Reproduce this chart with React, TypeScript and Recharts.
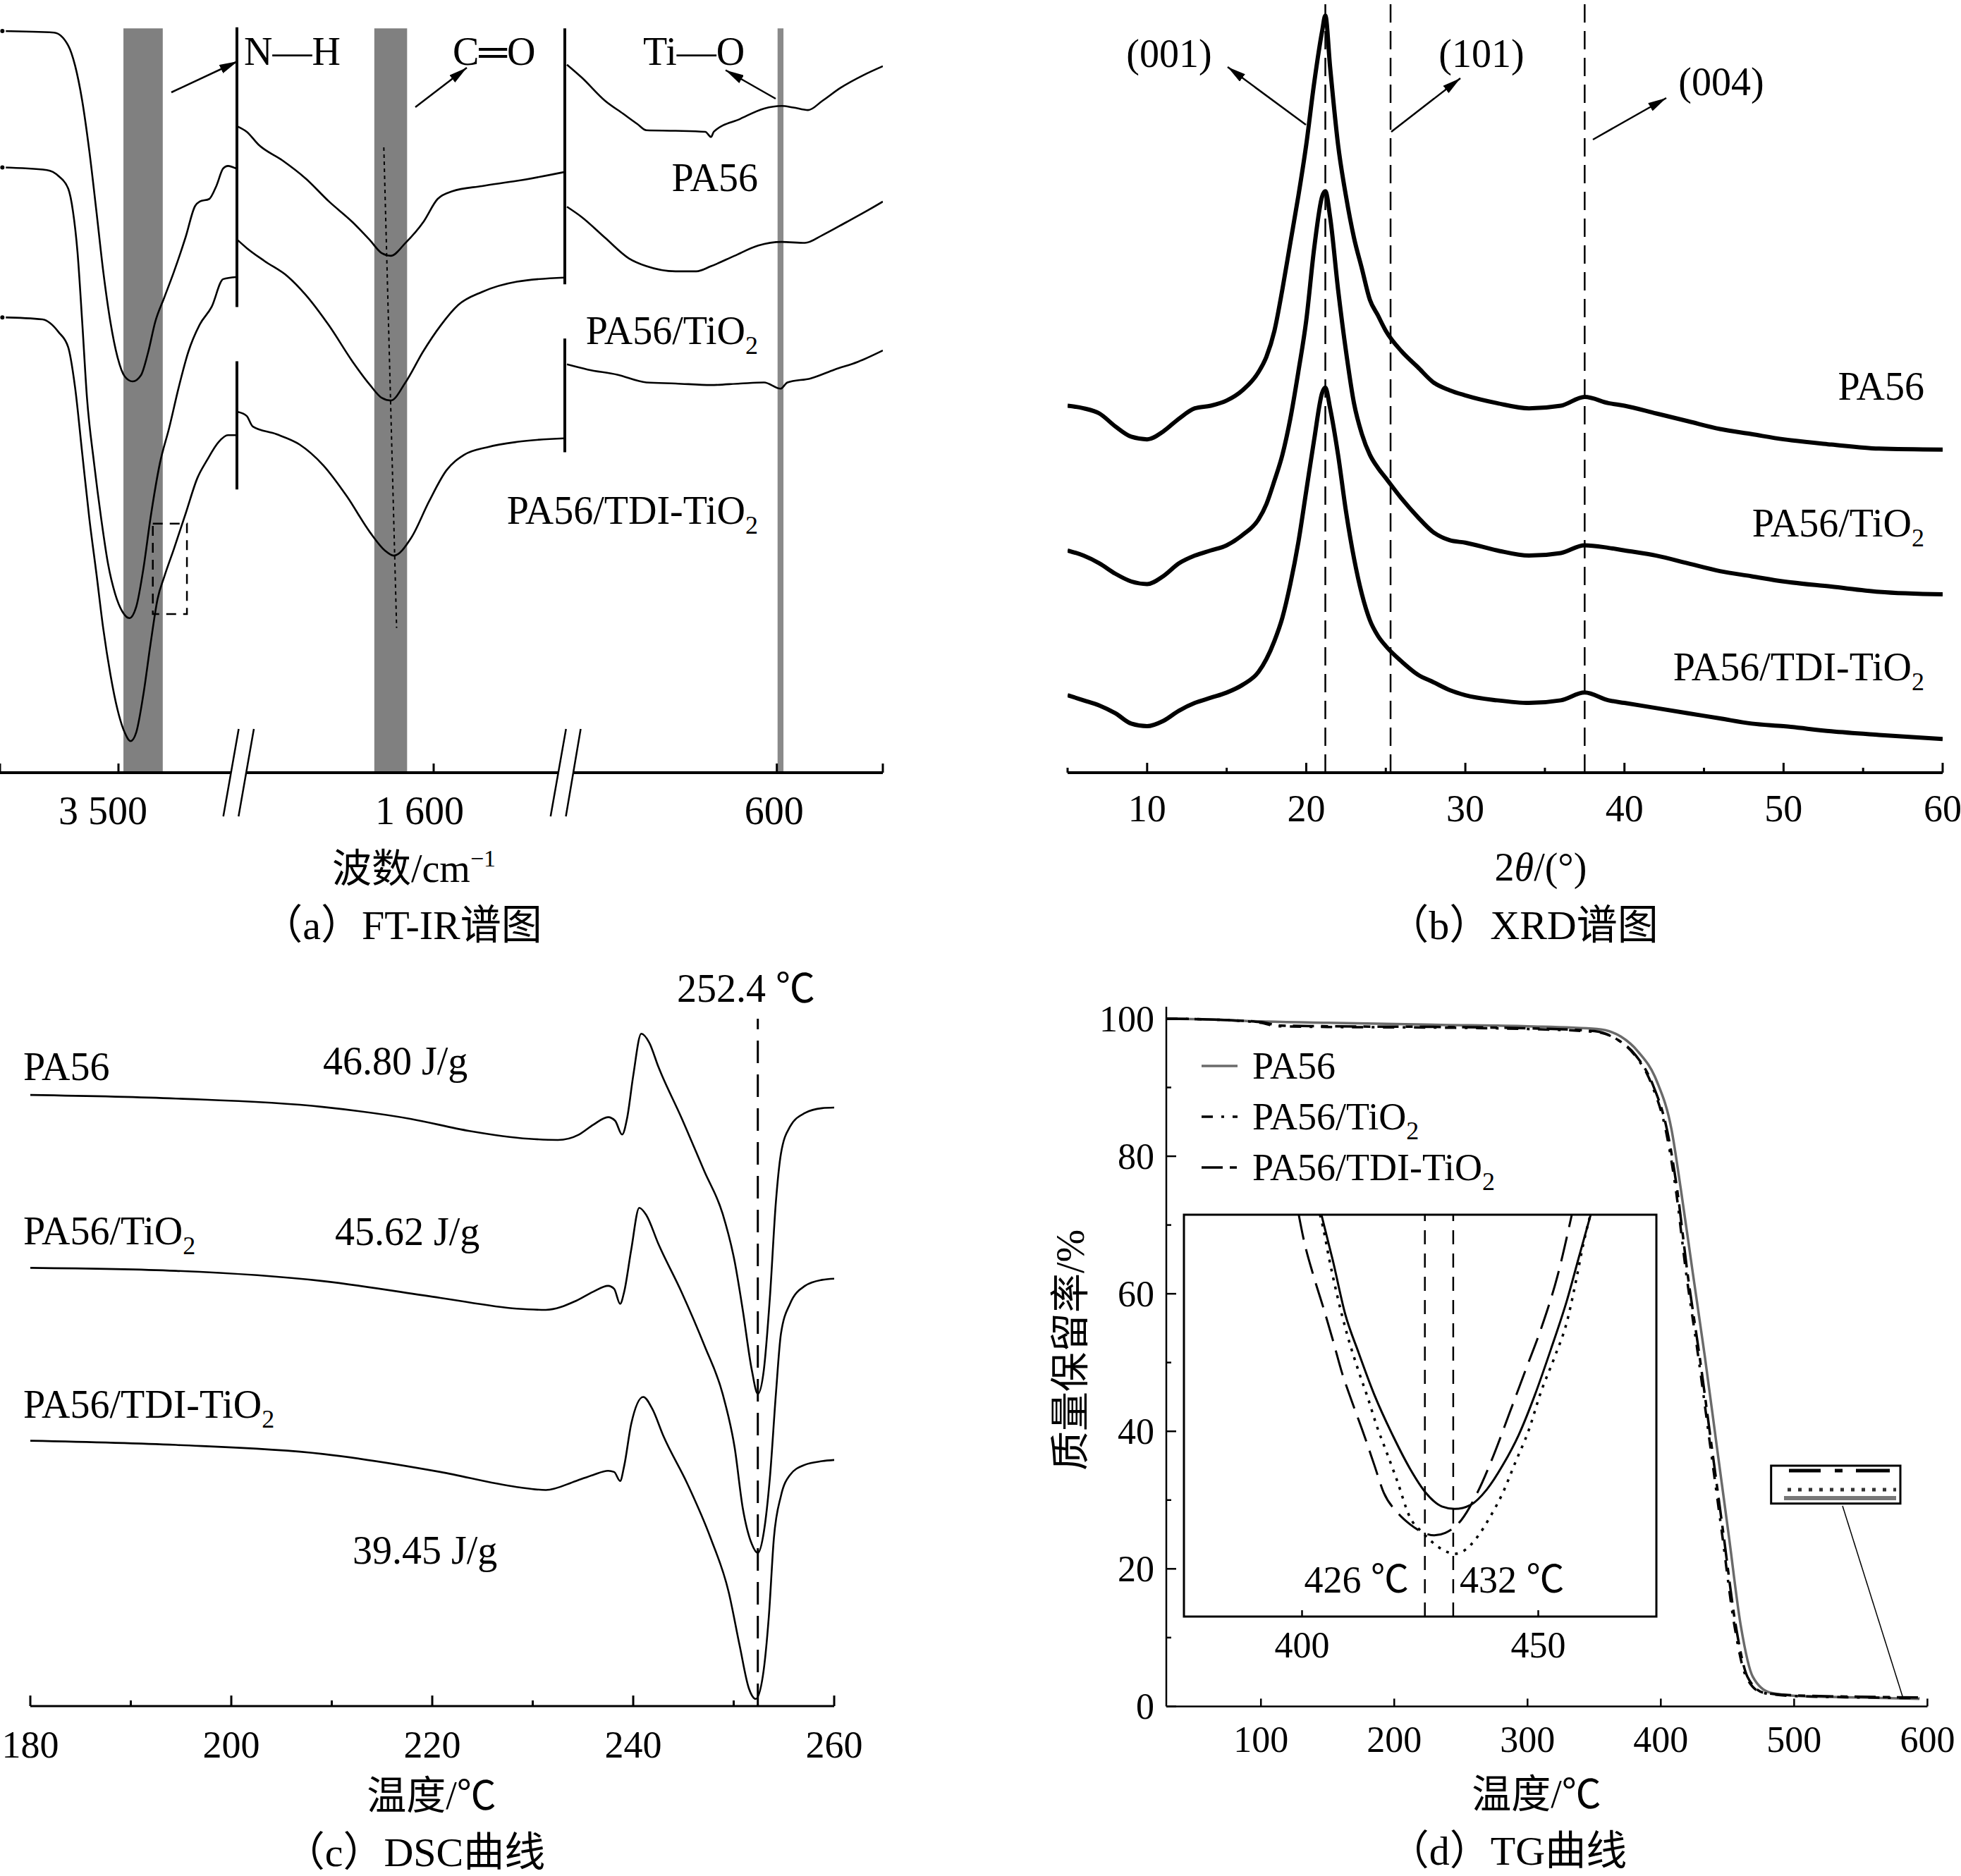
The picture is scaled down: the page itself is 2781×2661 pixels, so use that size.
import React from "react";
import { LineChart, Line, XAxis, YAxis, ReferenceLine, ReferenceArea } from "recharts";

type P = [number, number];
const SERIF = "'Liberation Serif','Times New Roman','Noto Sans CJK SC',serif";
const rows = (pts: P[]) => pts.map(([x, y]) => ({ x, y }));

// ---------------- (a) FT-IR ----------------
const IR_DOMAINS: [number, number][] = [[3000, 4000], [1200, 2200], [400, 1000]];
const IR_TICKS: number[][] = [[4000, 3500], [1600], [600, 400]];
const IR_LABEL_VALUES = [3500, 1600, 600];
const IR_LABEL_TEXTS = ["3 500", "1 600", "600"];
const IR_BANDS: P[] = [[3313, 3479], [1681, 1781], [587.5, 598.6]];
const IR_BAND_TOP = 144;

const IR1_PA56: P[] = [[3990,143.5],[3772,143.2],[3712,140.7],[3683,136.8],[3653,130.0],[3623,120.3],[3593,108.6],[3564,96.9],[3534,87.2],[3504,80.4],[3474,76.7],[3440,75.7],[3405,76.9],[3375,81.3],[3345,87.2],[3306,92.0],[3266,96.9],[3216,103.7],[3177,109.6],[3157,110.5],[3117,111.0],[3087,113.5],[3058,116.9],[3038,117.4],[3003,116.9]];
const IR1_TIO2: P[] = [[3990,117.1],[3802,116.6],[3752,115.4],[3712,113.0],[3692,108.6],[3673,100.8],[3653,87.2],[3633,72.6],[3603,59.9],[3573,49.2],[3544,40.4],[3514,34.6],[3484,31.2],[3454,29.9],[3425,32.1],[3395,39.4],[3365,49.2],[3325,59.9],[3286,66.7],[3246,74.5],[3206,81.3],[3157,86.7],[3107,90.1],[3058,95.5],[3003,95.9]];
const IR1_TDI: P[] = [[3990,88.1],[3821,87.7],[3752,85.2],[3712,82.3],[3683,74.5],[3653,61.8],[3623,49.2],[3593,38.5],[3564,27.8],[3534,19.0],[3504,12.2],[3474,7.8],[3449,6.1],[3425,7.8],[3395,15.1],[3365,24.8],[3335,33.6],[3306,38.0],[3266,43.3],[3216,50.2],[3167,57.0],[3127,60.4],[3077,64.0],[3038,65.3],[3003,65.3]];

const IR2_PA56: P[] = [[2197,125],[2170,124],[2134,121.5],[2062,118.5],[1991,115],[1919,110.5],[1847,106.5],[1794,103],[1758,100.5],[1731,100],[1686,102.5],[1632,106.5],[1588,111],[1543,112.5],[1453,113.5],[1346,114.5],[1202,116.2]];
const IR2_TIO2: P[] = [[2197,103],[2170,101.5],[2116,99],[2045,96],[1991,92.5],[1919,86.5],[1847,79.5],[1794,75],[1758,72.5],[1731,72],[1686,75.5],[1632,81.5],[1579,86.5],[1525,90.5],[1453,93],[1346,95],[1202,95.8]];
const IR2_TDI: P[] = [[2197,69.8],[2170,69.0],[2152,67],[2080,65.5],[2009,63.5],[1937,59.5],[1865,53.5],[1794,46.5],[1749,43],[1722,42],[1668,45.5],[1614,52.5],[1561,58.5],[1507,61.5],[1435,63],[1346,64],[1202,64.7]];

const IR3_PA56: P[] = [[996,137],[968,134.5],[924,130],[890,127.5],[863,125.5],[846,124.3],[791,124.2],[735,124],[724,123],[719,124],[669,126.5],[624,128.5],[591,129],[569,128.7],[541,128.2],[514,130],[480,132.5],[436,135],[400,136.7]];
const IR3_TIO2: P[] = [[996,109.5],[968,107.5],[924,103.5],[879,99.5],[846,98],[791,97],[752,97],[724,98],[680,100],[635,102],[591,102.7],[547,102.5],[514,104],[469,106.5],[425,109],[400,110.5]];
const IR3_TDI: P[] = [[996,79],[957,78],[901,77],[846,75.5],[791,75.3],[724,75],[669,75.3],[624,75.5],[593,74.3],[580,75.5],[536,76.3],[491,78],[447,79.5],[400,81.7]];

const IR_SERIES: P[][][] = [[IR1_PA56, IR1_TIO2, IR1_TDI], [IR2_PA56, IR2_TIO2, IR2_TDI], [IR3_PA56, IR3_TIO2, IR3_TDI]];
const IR_BREAK_S2: P[] = [[144.2, 90.1], [79.6, 54.8]];
const IR_BREAK_S3: P[] = [[144, 94.5], [84, 62]];
const IR_DOTTED: P[] = [[1752, 121], [1713, 28]];
const IR_BOX = { x1: 3211, x2: 3355, y1: 30.7, y2: 48.2 };

// ---------------- (b) XRD ----------------
const XRD_ANGLE = [5,6,7,8,9,10,11,12,13,14,15,16,17,17.5,18,18.5,19,19.5,20,20.5,21,21.2,21.5,22,22.5,23,23.5,24,24.5,25,26,27,28,29,30,32,34,36,37.5,39,40,42,44,46,48,50,53,56,60];
const XRD_PA56 = [71.0,70.5,69.5,67.0,65.0,64.5,66.0,68.5,70.5,71.0,72.0,74.0,77.5,80.5,85.5,93.5,102.5,111.5,121.5,133.5,143.5,146.5,136.5,121.5,111.5,103.5,97.5,91.5,88.5,85.5,81.5,78.5,75.5,74.0,73.0,71.5,70.5,71.0,72.7,71.5,71.0,69.5,68.0,66.5,65.5,64.5,63.5,62.7,62.5];
const XRD_TIO2 = [43,42,40.5,38.5,37,36.5,38,40.5,42,43,44,46,49,52,56.5,61.5,68.5,77.5,87.5,101.5,111.5,112.5,107.5,93.5,81.5,71.5,65.5,61.5,59,57,53,49.5,46.5,45,44.5,43,42,42.5,44,43.5,43,42,40.5,39,38,37,36,35,34.5];
const XRD_TDI = [15,14,13,11.5,9.5,9,10,12,13.5,14.5,15.5,17,19.5,22,25.5,30,36.5,44.5,54.5,64.5,73.5,74.5,70.5,61.5,50.5,41.5,34.5,29.5,26.5,24.5,21.5,19,17.5,16,15,14,13.5,14,15.5,14,13.5,12.5,11.5,10.5,9.5,9,8,7.3,6.5];
const XRD_MAJOR = [10, 20, 30, 40, 50, 60];
const XRD_MINOR = [5, 15, 25, 35, 45, 55];
const XRD_PEAKS = [21.2, 25.3, 37.5];

// ---------------- (c) DSC ----------------
const DSC_PA56: P[] = [[180,101.8],[194.5,101.2],[209.1,99.8],[217.9,97.8],[223.7,95.8],[229.6,94.5],[232.5,94.3],[234.6,95.2],[236.0,96.8],[237.5,98.1],[238.2,97.5],[238.9,95.2],[239.4,98.0],[240.0,105.0],[240.8,112.0],[241.6,110.5],[242.5,106.5],[244.8,98.0],[247.1,89.0],[248.9,82.0],[250.1,74.0],[250.9,66.0],[251.8,56.0],[252.4,52.0],[253.0,56.0],[253.6,68.0],[254.2,84.0],[254.7,92.0],[255.6,96.5],[257.1,98.8],[258.8,99.6],[260,99.7]];
const DSC_TIO2: P[] = [[180,73.0],[194.5,72.5],[209.1,70.8],[220.8,68.0],[228.4,66.2],[231.3,66.0],[234.3,67.5],[236.0,69.0],[237.5,70.0],[238.1,69.5],[238.7,67.0],[239.1,69.0],[239.8,76.0],[240.6,83.0],[241.3,81.8],[242.5,77.0],[244.8,69.0],[247.1,60.0],[248.9,52.0],[250.1,43.0],[250.9,33.0],[251.8,27.0],[252.4,25.5],[253.0,29.0],[253.6,38.0],[254.2,52.0],[254.7,62.0],[255.6,67.0],[257.1,70.0],[258.8,71.0],[260,71.2]];
const DSC_TDI: P[] = [[180,44.2],[194.5,43.5],[209.1,42.0],[220.8,39.0],[228.4,36.5],[231.3,36.0],[234.3,37.5],[236.0,38.5],[237.5,39.2],[238.1,39.0],[238.7,37.5],[239.1,40.0],[239.8,47.0],[241.0,51.5],[241.9,49.5],[243.0,45.0],[245.4,37.0],[247.7,28.0],[249.5,19.0],[250.6,10.0],[251.5,3.0],[252.2,1.2],[252.9,5.0],[253.5,15.0],[254.0,28.0],[254.7,35.0],[255.6,38.5],[257.1,40.2],[258.8,40.8],[260,41.0]];
const DSC_MAJOR = [180, 200, 220, 240, 260];
const DSC_MINOR = [190, 210, 230, 250];
const DSC_PEAK = 252.4;
const DSC_PEAK_TOP = 114.5;

// ---------------- (d) TG ----------------
const TG_PA56: P[] = [[29,100],[60,99.9],[100,99.6],[150,99.4],[235,99.1],[300,98.9],[352,98.5],[370,97.4],[383,95.2],[397,90.9],[408,83.9],[415,75.2],[424,63],[433,50.9],[442,37.8],[451,24.8],[460,11.7],[469,4.3],[482,2.0],[504,1.5],[550,1.3],[594,1.1]];
const TG_TIO2: P[] = [[29,100],[60,99.9],[100,99.4],[112,98.9],[150,98.8],[235,98.7],[300,98.5],[350,98.1],[367,97.0],[380,94.8],[393,90.5],[404,83.5],[411,75.5],[419,63],[428,51],[437,38],[446,25],[455,12],[464,4.3],[476,2.0],[500,1.5],[550,1.3],[594,1.2]];
const TG_TDI: P[] = [[29,100],[60,99.9],[100,99.5],[115,99.0],[150,98.9],[235,98.8],[300,98.6],[350,98.2],[368,96.9],[381,94.7],[394,90.4],[405,83.5],[412,75.5],[420,63],[429,51],[438,38],[447,25],[456,12],[465,4.3],[477,2.0],[500,1.6],[550,1.4],[594,1.3]];
const TG_X_TICKS = [100, 200, 300, 400, 500, 600];
const TG_Y_MAJOR = [0, 20, 40, 60, 80, 100];
const TG_Y_MINOR = [10, 30, 50, 70, 90];

const INSET_PA56: P[] = [[404.1,100],[406.5,88.7],[409.2,75],[411.9,65.9],[415.3,55.2],[419.4,44.6],[422.8,36.9],[426.2,30.8],[429.6,27.4],[432.3,26.8],[435.7,27.8],[439.1,31.6],[442.5,37.7],[445.9,45.3],[449.3,55.2],[452.7,66.6],[456.1,78.8],[458.8,90.3],[461.1,100]];
const INSET_TIO2: P[] = [[403.8,100],[404.4,97.1],[405.8,88.7],[407.5,79.6],[409.5,70.4],[411.9,61.3],[413.9,54.5],[416.0,46.8],[417.7,41.5],[420.1,33.9],[422.8,24.8],[425.5,20.9],[428.2,17.9],[430.9,16.0],[432.3,15.6],[434.3,16.4],[437.1,19.8],[439.8,24.8],[442.5,30.8],[445.2,38.5],[447.9,46.1],[450.6,56.0],[453.4,64.4],[456.1,73.5],[458.1,84.2],[459.5,92.5],[460.9,99.4]];
const INSET_TDI: P[] = [[399.3,100],[400.3,94.1],[402.4,84.9],[404.4,77.3],[406.5,68.9],[408.5,60.5],[410.5,53.7],[413.3,44.6],[415.3,37.7],[417.3,30.8],[420.1,26.0],[422.8,23.0],[425.5,21.0],[428.0,20.2],[430.3,20.8],[433.7,24.0],[437.1,30.8],[440.5,40.0],[443.9,50.6],[447.3,61.3],[450.7,72.0],[454.1,84.9],[457.1,100]];
const INSET_TICKS = [400, 450];
const INSET_MARKS = [426, 432];

// ---------------- helpers ----------------
function xTick(major: number[], labels: string[] | null, minor: number[], len: number, minorLen: number, off: number, size: number, sw: number, dx: number[] = []) {
  return (p: any) => {
    const v = Number(p.payload?.value);
    const isMinor = minor.indexOf(v) >= 0;
    const li = major.indexOf(v);
    const L = isMinor ? minorLen : len;
    const txt = li >= 0 ? (labels ? labels[li] : String(v)) : null;
    const shift = li >= 0 && dx[li] ? dx[li] : 0;
    return (
      <g>
        <line x1={p.x} y1={p.y} x2={p.x} y2={p.y - L} stroke="#000" strokeWidth={sw} />
        {txt !== null && (
          <text x={p.x + shift} y={p.y + off + 0.34 * size} textAnchor="middle" fontSize={size} fontFamily={SERIF} fill="#000">{txt}</text>
        )}
      </g>
    );
  };
}
function yTick(major: number[], minor: number[], len: number, minorLen: number, off: number, size: number, sw: number) {
  return (p: any) => {
    const v = Number(p.payload?.value);
    const isMinor = minor.indexOf(v) >= 0;
    const L = isMinor ? minorLen : len;
    const show = major.indexOf(v) >= 0;
    return (
      <g>
        <line x1={p.x} y1={p.y} x2={p.x + L} y2={p.y} stroke="#000" strokeWidth={sw} />
        {show && (
          <text x={p.x - off} y={p.y + 0.34 * size} textAnchor="end" fontSize={size} fontFamily={SERIF} fill="#000">{v}</text>
        )}
      </g>
    );
  };
}
const irTick = xTick(IR_LABEL_VALUES, IR_LABEL_TEXTS, [], 13, 13, 54, 56, 3, [-22, -20, -4]);
const xrdTick = xTick(XRD_MAJOR, null, XRD_MINOR, 14, 7, 51, 54, 3);
const dscTick = xTick(DSC_MAJOR, null, DSC_MINOR, 15, 8, 55, 54, 3);
const tgXTick = xTick(TG_X_TICKS, null, [], 11, 11, 47, 52, 2.5);
const tgYTick = yTick(TG_Y_MAJOR, TG_Y_MINOR, 14, 7, 17, 52, 2.5);
const insetTick = xTick(INSET_TICKS, null, [], 9, 9, 40, 52, 2.5);

const lineProps = { type: "monotone" as const, dot: false, isAnimationActive: false, dataKey: "y" };

// ---------------- panels ----------------
function IRSection({ idx, left, w }: { idx: number; left: number; w: number }) {
  const pad = 40;
  const band = IR_BANDS[idx];
  return (
    <div style={{ position: "absolute", left: left - pad, top: 0 }}>
      <LineChart width={w + 2 * pad} height={1200} margin={{ top: 0, right: pad, bottom: 0, left: pad }}>
        <XAxis type="number" dataKey="x" domain={IR_DOMAINS[idx]} reversed allowDataOverflow ticks={IR_TICKS[idx]} interval={0}
          height={104} tickLine={false} tickSize={0} tickMargin={0} axisLine={{ stroke: "#000", strokeWidth: 4 }} tick={irTick} />
        <YAxis type="number" domain={[0, 149.5]} hide allowDataOverflow />
        <ReferenceArea x1={band[0]} x2={band[1]} y1={0} y2={IR_BAND_TOP} fill={idx === 2 ? "#8a8a8a" : "#808080"} fillOpacity={1} stroke="none" />
        {idx === 0 && (
          <ReferenceArea x1={IR_BOX.x1} x2={IR_BOX.x2} y1={IR_BOX.y1} y2={IR_BOX.y2} fill="none" fillOpacity={0} stroke="#000" strokeWidth={2.5} strokeDasharray="14 10" />
        )}
        {idx === 1 && IR_BREAK_S2.map((s, i) => (
          <ReferenceLine key={"b" + i} segment={[{ x: 2200, y: s[0] }, { x: 2200, y: s[1] }]} stroke="#000" strokeWidth={4} />
        ))}
        {idx === 1 && (
          <ReferenceLine segment={[{ x: IR_DOTTED[0][0], y: IR_DOTTED[0][1] }, { x: IR_DOTTED[1][0], y: IR_DOTTED[1][1] }]} stroke="#000" strokeWidth={2} strokeDasharray="5 5" />
        )}
        {idx === 2 && IR_BREAK_S3.map((s, i) => (
          <ReferenceLine key={"c" + i} segment={[{ x: 1000, y: s[0] }, { x: 1000, y: s[1] }]} stroke="#000" strokeWidth={4} />
        ))}
        {IR_SERIES[idx].map((s, i) => (
          <Line key={i} {...lineProps} data={rows(s)} stroke="#000" strokeWidth={2.6} />
        ))}
      </LineChart>
    </div>
  );
}

function XRDPanel() {
  const pad = 40;
  const series = [XRD_PA56, XRD_TIO2, XRD_TDI].map((ys) => XRD_ANGLE.map((x, i) => ({ x, y: ys[i] })));
  const ticks = [...XRD_MINOR, ...XRD_MAJOR].sort((a, b) => a - b);
  return (
    <div style={{ position: "absolute", left: 1514 - pad, top: 0 }}>
      <LineChart width={1241 + 2 * pad} height={1200} margin={{ top: 0, right: pad, bottom: 0, left: pad }}>
        <XAxis type="number" dataKey="x" domain={[5, 60]} allowDataOverflow ticks={ticks} interval={0}
          height={104} tickLine={false} tickSize={0} tickMargin={0} axisLine={{ stroke: "#000", strokeWidth: 4 }} tick={xrdTick} />
        <YAxis type="number" domain={[0, 149.5]} hide allowDataOverflow />
        {XRD_PEAKS.map((p) => (
          <ReferenceLine key={p} x={p} stroke="#000" strokeWidth={2.5} strokeDasharray="26 12" />
        ))}
        {series.map((d, i) => (
          <Line key={i} {...lineProps} data={d} stroke="#000" strokeWidth={6} strokeLinejoin="round" />
        ))}
      </LineChart>
    </div>
  );
}

function DSCPanel() {
  const pad = 40;
  const ticks = [...DSC_MINOR, ...DSC_MAJOR].sort((a, b) => a - b);
  return (
    <div style={{ position: "absolute", left: 43.3 - pad, top: 1330 }}>
      <LineChart width={1140 + 2 * pad} height={1240} margin={{ top: 0, right: pad, bottom: 0, left: pad }}>
        <XAxis type="number" dataKey="x" domain={[180, 260]} allowDataOverflow ticks={ticks} interval={0}
          height={150} tickLine={false} tickSize={0} tickMargin={0} axisLine={{ stroke: "#000", strokeWidth: 3 }} tick={dscTick} />
        <YAxis type="number" domain={[0, 128]} hide allowDataOverflow />
        <ReferenceLine segment={[{ x: DSC_PEAK, y: 0 }, { x: DSC_PEAK, y: DSC_PEAK_TOP }]} stroke="#000" strokeWidth={3} strokeDasharray="32 16" />
        {[DSC_PA56, DSC_TIO2, DSC_TDI].map((s, i) => (
          <Line key={i} {...lineProps} data={rows(s)} stroke="#000" strokeWidth={2.6} />
        ))}
      </LineChart>
    </div>
  );
}

const TG_STYLES = [
  { stroke: "#6a6a6a", dash: undefined as string | undefined, w: 3.5 },
  { stroke: "#000", dash: "16 12 4 12", w: 3.5 },
  { stroke: "#000", dash: "30 10 10 10", w: 3.5 },
];

function TGPanel() {
  const yTicks = [...TG_Y_MAJOR, ...TG_Y_MINOR].sort((a, b) => a - b);
  return (
    <>
      <div style={{ position: "absolute", left: 1513.6, top: 1417.5 }}>
        <LineChart width={1259.4} height={1132.4} margin={{ top: 10, right: 40, bottom: 0, left: 10 }}>
          <XAxis type="number" dataKey="x" domain={[29, 600]} allowDataOverflow ticks={TG_X_TICKS} interval={0}
            height={130} tickLine={false} tickSize={0} tickMargin={0} axisLine={{ stroke: "#000", strokeWidth: 2.5 }} tick={tgXTick} />
          <YAxis type="number" domain={[0, 101.74]} allowDataOverflow ticks={yTicks} interval={0} width={130}
            tickLine={false} tickSize={0} tickMargin={0} axisLine={{ stroke: "#000", strokeWidth: 2.5 }} tick={tgYTick} />
          {[TG_PA56, TG_TIO2, TG_TDI].map((s, i) => (
            <Line key={i} {...lineProps} data={rows(s)} stroke={TG_STYLES[i].stroke} strokeWidth={TG_STYLES[i].w} strokeDasharray={TG_STYLES[i].dash} />
          ))}
        </LineChart>
      </div>
      <div style={{ position: "absolute", left: 1639, top: 1712.7 }}>
        <LineChart width={750} height={680} margin={{ top: 10, right: 40, bottom: 0, left: 40 }}>
          <XAxis type="number" dataKey="x" domain={[375, 475]} allowDataOverflow ticks={INSET_TICKS} interval={0}
            height={100} tickLine={false} tickSize={0} tickMargin={0} axisLine={false} tick={insetTick} />
          <YAxis type="number" domain={[0, 100]} hide allowDataOverflow />
          <ReferenceArea x1={375} x2={475} y1={0} y2={100} fill="none" fillOpacity={0} stroke="#000" strokeWidth={3} />
          {INSET_MARKS.map((m) => (
            <ReferenceLine key={m} x={m} stroke="#000" strokeWidth={2.5} strokeDasharray="20 13" />
          ))}
          <Line {...lineProps} data={rows(INSET_PA56)} stroke="#000" strokeWidth={3} />
          <Line {...lineProps} data={rows(INSET_TIO2)} stroke="#000" strokeWidth={3.5} strokeDasharray="4 9" />
          <Line {...lineProps} data={rows(INSET_TDI)} stroke="#000" strokeWidth={3} strokeDasharray="36 14" />
        </LineChart>
      </div>
    </>
  );
}

// ---------------- overlay text / annotations ----------------
function Txt({ x, cy, s = 56, a = "start", rot, children }: { x: number; cy: number; s?: number; a?: "start" | "middle" | "end"; rot?: number; children: any }) {
  return (
    <text x={x} y={cy + 0.34 * s} fontSize={s} textAnchor={a} fontFamily={SERIF} fill="#000"
      transform={rot ? `rotate(${rot} ${x} ${cy})` : undefined}>
      {children}
    </text>
  );
}
const Sub = ({ c }: { c: string }) => <tspan fontSize={36} dy={14}>{c}</tspan>;
function Arrow({ x1, y1, x2, y2 }: { x1: number; y1: number; x2: number; y2: number }) {
  return <line x1={x1} y1={y1} x2={x2} y2={y2} stroke="#000" strokeWidth={2.5} markerEnd="url(#ah)" />;
}
function BreakMark({ a, b }: { a: [number, number, number, number]; b: [number, number, number, number] }) {
  return (
    <g>
      <polygon points={`${a[0]},${a[1]} ${a[2]},${a[3]} ${b[2]},${b[3]} ${b[0]},${b[1]}`} fill="#fff" />
      <line x1={a[0]} y1={a[1]} x2={a[2]} y2={a[3]} stroke="#000" strokeWidth={2.5} />
      <line x1={b[0]} y1={b[1]} x2={b[2]} y2={b[3]} stroke="#000" strokeWidth={2.5} />
    </g>
  );
}

function Overlay() {
  return (
    <svg width={2781} height={2661} style={{ position: "absolute", left: 0, top: 0, pointerEvents: "none" }}>
      <defs>
        <marker id="ah" viewBox="0 0 10 10" refX="10" refY="5" markerWidth="26" markerHeight="13" markerUnits="userSpaceOnUse" orient="auto" preserveAspectRatio="none">
          <path d="M0,0 L10,5 L0,10 z" fill="#000" />
        </marker>
      </defs>

      {/* (a) FT-IR */}
      <BreakMark a={[316.7, 1158, 338.5, 1034]} b={[338.3, 1158, 360, 1034]} />
      <BreakMark a={[780.8, 1158, 802.7, 1034]} b={[802.5, 1158, 823.5, 1034]} />
      <Arrow x1={243} y1={131} x2={337} y2={87} />
      <Arrow x1={589} y1={152} x2={662} y2={96} />
      <Arrow x1={1100} y1={140} x2={1029} y2={99.5} />
      <Txt x={346} cy={73}>N—H</Txt>
      <Txt x={642} cy={73}>C═O</Txt>
      <Txt x={912} cy={73}>Ti—O</Txt>
      <Txt x={1075} cy={252} a="end">PA56</Txt>
      <Txt x={1075} cy={469} a="end">PA56/TiO<Sub c="2" /></Txt>
      <Txt x={1075} cy={724} a="end">PA56/TDI-TiO<Sub c="2" /></Txt>
      <Txt x={587} cy={1232} a="middle" s={56}>波数/cm<tspan fontSize={34} dy={-22}>−1</tspan></Txt>
      <Txt x={570} cy={1312} a="middle" s={58}>（a）FT-IR谱图</Txt>

      {/* (b) XRD */}
      <Txt x={1658} cy={76} a="middle">(001)</Txt>
      <Txt x={2101} cy={76} a="middle">(101)</Txt>
      <Txt x={2441} cy={116} a="middle">(004)</Txt>
      <Arrow x1={1852} y1={177} x2={1741} y2={95} />
      <Arrow x1={1973} y1={187} x2={2071} y2={111} />
      <Arrow x1={2259} y1={198} x2={2363} y2={139} />
      <Txt x={2729} cy={548} a="end">PA56</Txt>
      <Txt x={2729} cy={742} a="end">PA56/TiO<Sub c="2" /></Txt>
      <Txt x={2729} cy={946} a="end">PA56/TDI-TiO<Sub c="2" /></Txt>
      <Txt x={2185} cy={1230} a="middle" s={56}>2<tspan fontStyle="italic">θ</tspan>/(°)</Txt>
      <Txt x={2160} cy={1312} a="middle" s={58}>（b）XRD谱图</Txt>

      {/* (c) DSC */}
      <Txt x={1058} cy={1402} a="middle">252.4 ℃</Txt>
      <Txt x={33} cy={1513}>PA56</Txt>
      <Txt x={458} cy={1505}>46.80 J/g</Txt>
      <Txt x={33} cy={1746}>PA56/TiO<Sub c="2" /></Txt>
      <Txt x={475} cy={1747}>45.62 J/g</Txt>
      <Txt x={33} cy={1992}>PA56/TDI-TiO<Sub c="2" /></Txt>
      <Txt x={500} cy={2199}>39.45 J/g</Txt>
      <Txt x={612} cy={2547} a="middle" s={56}>温度/℃</Txt>
      <Txt x={588} cy={2627} a="middle" s={58}>（c）DSC曲线</Txt>

      {/* (d) TG */}
      <line x1={1704} y1={1512} x2={1755} y2={1512} stroke={TG_STYLES[0].stroke} strokeWidth={3.5} />
      <line x1={1704} y1={1584} x2={1755} y2={1584} stroke="#000" strokeWidth={3.5} strokeDasharray={TG_STYLES[1].dash} />
      <line x1={1704} y1={1656} x2={1755} y2={1656} stroke="#000" strokeWidth={3.5} strokeDasharray={TG_STYLES[2].dash} />
      <Txt x={1776} cy={1512} s={54}>PA56</Txt>
      <Txt x={1776} cy={1584} s={54}>PA56/TiO<Sub c="2" /></Txt>
      <Txt x={1776} cy={1656} s={54}>PA56/TDI-TiO<Sub c="2" /></Txt>
      <Txt x={1998} cy={2241} a="end" s={54}>426 ℃</Txt>
      <Txt x={2070} cy={2241} s={54}>432 ℃</Txt>
      <Txt x={1518} cy={1915} a="middle" s={56} rot={-90}>质量保留率/%</Txt>
      <Txt x={2179} cy={2545} a="middle" s={56}>温度/℃</Txt>
      <Txt x={2138} cy={2625} a="middle" s={58}>（d）TG曲线</Txt>
      {/* small magnifier box */}
      <rect x={2511.7} y={2079} width={183.3} height={53.7} fill="#fff" stroke="#000" strokeWidth={3} />
      <line x1={2537} y1={2086} x2={2582} y2={2086} stroke="#000" strokeWidth={5} />
      <line x1={2602} y1={2086} x2={2613} y2={2086} stroke="#000" strokeWidth={5} />
      <line x1={2632} y1={2086} x2={2680} y2={2086} stroke="#000" strokeWidth={5} />
      <line x1={2535} y1={2113} x2={2689} y2={2113} stroke="#333" strokeWidth={5} strokeDasharray="5 10" />
      <line x1={2530} y1={2125} x2={2689} y2={2125} stroke="#777" strokeWidth={6} />
      <line x1={2613} y1={2136} x2={2698} y2={2406} stroke="#000" strokeWidth={1.5} />
    </svg>
  );
}

export default function App() {
  return (
    <div style={{ position: "absolute", left: 0, top: 0, width: 2781, height: 2661, background: "#fff", overflow: "hidden" }}>
      <IRSection idx={0} left={0} w={336} />
      <IRSection idx={1} left={336} w={465} />
      <IRSection idx={2} left={801} w={451} />
      <XRDPanel />
      <DSCPanel />
      <TGPanel />
      <Overlay />
    </div>
  );
}
